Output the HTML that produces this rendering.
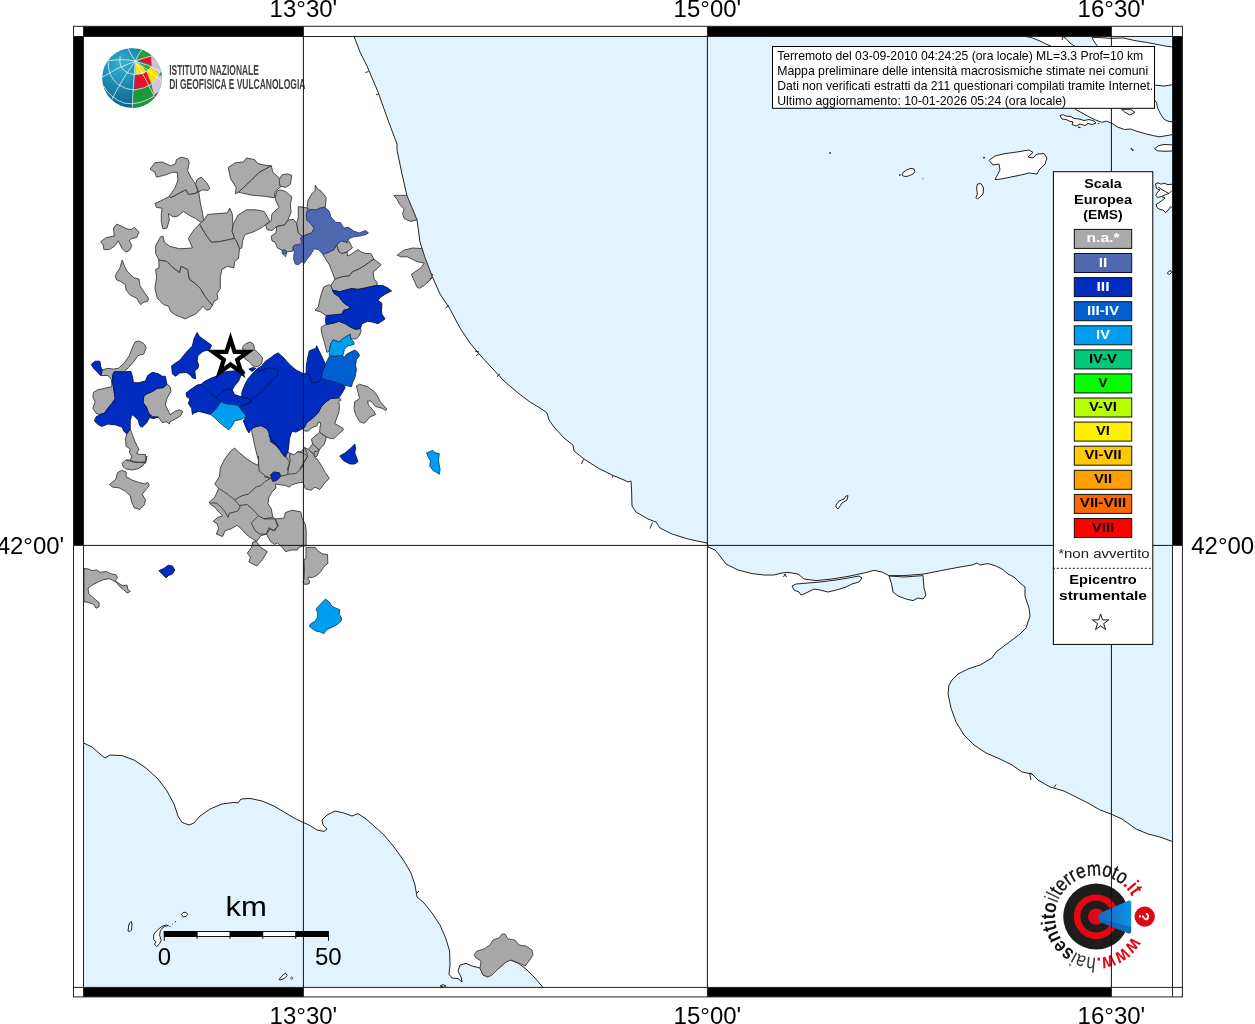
<!DOCTYPE html>
<html><head><meta charset="utf-8"><title>Mappa intensit&agrave; macrosismiche</title>
<style>
html,body{margin:0;padding:0;background:#fff;}
body{width:1255px;height:1024px;position:relative;overflow:hidden;font-family:"Liberation Sans",sans-serif;}
</style></head><body>
<svg width="1255" height="1024" viewBox="0 0 1255 1024" style="position:absolute;left:0;top:0;will-change:transform;font-family:'Liberation Sans',sans-serif">
<defs><clipPath id="mapclip"><rect x="83.5" y="36.5" width="1089" height="950.9"/></clipPath>

<radialGradient id="gl" cx="0.32" cy="0.28" r="0.85"><stop offset="0" stop-color="#34b2d2"/><stop offset="0.45" stop-color="#1a86ae"/><stop offset="1" stop-color="#0a5482"/></radialGradient>
<clipPath id="globeclip"><circle cx="0" cy="0" r="30"/></clipPath>
<linearGradient id="cone" x1="0" y1="0" x2="1" y2="0"><stop offset="0" stop-color="#1c66bf"/><stop offset="1" stop-color="#0a93e4"/></linearGradient>
<path id="ring" d="M 35.94,19.92 A 41.1,41.1 0 1 1 36.6,-18.7"/>

</defs>
<rect x="0" y="0" width="1255" height="1024" fill="#fff"/>
<g clip-path="url(#mapclip)">
<polygon points="354,36.4 360,52 367,66 378,92 388,120 397,144 397,150 402,174 407,196 417,220 418.4,230 420,242 425,258 432,276 440,294 450,309 460,328 470,343 480,355 492,368 504,381 518,393 530,402 540,408 547,413 549,420 554,427 564,438 573,445 574,451 584,459 598,468 612,475 624,480 628,482 631,481 631.6,490 632,506 636,512 648,519 656,522 660,528 672,534 688,539 700,541.6 707,543 708,547 715,550 720,556 726,564 738,570 752,573.6 764,575 774,575 782,573 788,572.4 798,574 804,579 816,580.6 832,579 848,576.4 864,573 874,570.4 882,572 889,575.6 904,575.6 924,574 944,570 960,567 972,565 977,563 980,565 988,563.6 996,566 1002,569 1008,574 1014,577 1020,583 1025,587 1025,596 1029,608 1030,616 1026,628 1020,634 1012,640 1004,646 996,652 992,658 980,665 968,669 958,674 952,680 949,685 948,694 951,708 956,722 964,735 974,745 986,753 1000,759 1012,765 1022,772 1032,774 1038,780 1050,787 1064,791 1074,796 1088,803 1100,810 1111,814 1122,819 1136,829 1148,834 1160,837 1172.5,841.6 1177.5,841.6 1177.5,31.5 354,31.5" fill="#e0f3ff" stroke="none"/>
<polyline points="354,36.4 360,52 367,66 378,92 388,120 397,144 397,150 402,174 407,196 417,220 418.4,230 420,242 425,258 432,276 440,294 450,309 460,328 470,343 480,355 492,368 504,381 518,393 530,402 540,408 547,413 549,420 554,427 564,438 573,445 574,451 584,459 598,468 612,475 624,480 628,482 631,481 631.6,490 632,506 636,512 648,519 656,522 660,528 672,534 688,539 700,541.6 707,543 708,547 715,550 720,556 726,564 738,570 752,573.6 764,575 774,575 782,573 788,572.4 798,574 804,579 816,580.6 832,579 848,576.4 864,573 874,570.4 882,572 889,575.6 904,575.6 924,574 944,570 960,567 972,565 977,563 980,565 988,563.6 996,566 1002,569 1008,574 1014,577 1020,583 1025,587 1025,596 1029,608 1030,616 1026,628 1020,634 1012,640 1004,646 996,652 992,658 980,665 968,669 958,674 952,680 949,685 948,694 951,708 956,722 964,735 974,745 986,753 1000,759 1012,765 1022,772 1032,774 1038,780 1050,787 1064,791 1074,796 1088,803 1100,810 1111,814 1122,819 1136,829 1148,834 1160,837 1172.5,841.6" fill="none" stroke="#222" stroke-width="1.0" stroke-linejoin="round"/>
<polygon points="83.5,743 92,747 100,754 105,758 110,755 122,755.6 134,760 146,768 158,779 167,791 174,804 178,816 182,822.4 189,825 194,823 200,816 210,809 222,804 234,802.4 238,803 241,799 250,798.4 262,801 274,806 284,812 294,818 303,822.4 309,825 317,830 324,831.4 327,829 323,825 322,820 327,815 335,811 344,813 352,816 358,813.6 366,819 374,826 384,835 394,847 404,861 411,873 415,885 417,897 424,903 432,913 440,925 446,939 449.6,951 450,965 449,974 452,978 458,978.6 462,982 461,977 458,971 460,965 466,963.4 472,966 480,968 483,975 488,977 498,969 506,962 510,960 518,963 526,969 534,977 543,987.4 543,992.4 78.5,992.4 78.5,743" fill="#e0f3ff" stroke="none"/>
<polyline points="83.5,743 92,747 100,754 105,758 110,755 122,755.6 134,760 146,768 158,779 167,791 174,804 178,816 182,822.4 189,825 194,823 200,816 210,809 222,804 234,802.4 238,803 241,799 250,798.4 262,801 274,806 284,812 294,818 303,822.4 309,825 317,830 324,831.4 327,829 323,825 322,820 327,815 335,811 344,813 352,816 358,813.6 366,819 374,826 384,835 394,847 404,861 411,873 415,885 417,897 424,903 432,913 440,925 446,939 449.6,951 450,965 449,974 452,978 458,978.6 462,982 461,977 458,971 460,965 466,963.4 472,966 480,968 483,975 488,977 498,969 506,962 510,960 518,963 526,969 534,977 543,987.4" fill="none" stroke="#222" stroke-width="1.0" stroke-linejoin="round"/>
<polygon points="792,586 796,584 808,583 820,582 836,580 848,578 859,576 862,578 859,582 852,584 846,587 838,589.6 828,592 820,590 814,589 806,593 801,595 799,592 794,590" fill="#e0f3ff" stroke="#222" stroke-width="1.0" stroke-linejoin="round"/>
<polygon points="889,576 904,577 923,575.6 924,588 926,595 923,599 918,598 913,600.6 906,599 898,596 893,592 891.6,584" fill="#e0f3ff" stroke="#222" stroke-width="1.0" stroke-linejoin="round"/>
<polygon points="836,505 839,501 844,499 846,496 848,495.6 847,500 842,503 838,509 836,507" fill="#fff" stroke="#222" stroke-width="1.0" stroke-linejoin="round"/>
<polygon points="128,931 129,924 131,921.5 132,924 131.5,930 130,931.5" fill="#fff" stroke="#222" stroke-width="1.0" stroke-linejoin="round"/>
<polygon points="168.5,925.6 164.7,926.3 162.1,928.2 160.2,931.4 159.6,935.2 161.2,940.3 159.6,943.5 156.7,946.7 154.5,944.1 156.1,941.6 153.5,939.7 153.8,934.6 156.1,931.4 158.9,928.8 162.1,926.3 165.9,925" fill="#fff" stroke="#222" stroke-width="1.0" stroke-linejoin="round"/>
<polygon points="181.5,914.5 183,912.5 186,912.3 187.6,914.3 186,916.5 183,916.8" fill="#fff" stroke="#222" stroke-width="1.0" stroke-linejoin="round"/>
<polygon points="279,979.5 283,975 285.5,973 287.2,975.5 284,978.5 280,980" fill="#fff" stroke="#222" stroke-width="1.0" stroke-linejoin="round"/>
<polygon points="440,986 443,984.6 446,986 444,987.2" fill="#fff" stroke="#222" stroke-width="1.0" stroke-linejoin="round"/>
<polygon points="989,160.4 995,156 1005,153.6 1017,152 1029,150 1033,152.4 1028,157 1033,158 1037,154 1044,153.6 1047,158 1045,164 1039,170 1037,174 1029,173 1021,175 1011,177 1001,179 995,179.6 1000,170 999,164 993,165" fill="#fff" stroke="#222" stroke-width="1.0" stroke-linejoin="round"/>
<polygon points="977.4,184 981,183.6 983.6,188 983,194 980,197 977.4,199 976,197.6 977.4,194 976.6,188" fill="#fff" stroke="#222" stroke-width="1.0" stroke-linejoin="round"/>
<polygon points="902,175 903,172.5 906.5,170 911,168.3 914,169 914.8,171.5 913,174 909,175.8 906,176.5 903.5,176" fill="#fff" stroke="#222" stroke-width="1.0" stroke-linejoin="round"/>
<polygon points="1022.8,36 1031,37.5 1040,41 1046,44 1051.8,46.5 1075,46.5 1070,43 1066,38.5 1062,36" fill="#fff" stroke="#222" stroke-width="1.0" stroke-linejoin="round"/>
<polyline points="1062,40 1063,36.5" fill="none" stroke="#222" stroke-width="1.0" stroke-linejoin="round"/>
<polygon points="1092,37.6 1100,37.6 1111.2,38.4 1123.2,38 1136,40.8 1146.5,42.4 1156.9,44.4 1164.9,46 1175,47.2 1175,84.4 1164,86 1155.3,85.2 1150,84 1098,46.5 1097.2,45.6 1094.4,42" fill="#fff" stroke="#222" stroke-width="1.0" stroke-linejoin="round"/>
<polygon points="1075.4,109.3 1081,112.4 1089.4,117 1095.6,120 1101.8,122.3 1106.5,121.2 1112,123.3 1117.3,127 1124.6,129.5 1130.8,129 1136,131 1145.3,133.7 1153.6,135.7 1159.8,136.8 1166,135.7 1175,134.2 1175,122.3 1168,121.2 1164,119.2 1160.8,114.5 1157.7,108.3 1156.7,103 1154.6,100 1080,100" fill="#fff" stroke="#222" stroke-width="1.0" stroke-linejoin="round"/>
<polygon points="1121.5,109.3 1130.8,109.3 1135,112.4 1129.8,115 1124.6,112" fill="#e0f3ff" stroke="#222" stroke-width="1.0" stroke-linejoin="round"/>
<polygon points="1060,115.5 1063,114.6 1066,116 1071,116.5 1074,118.5 1079,119 1084,120.5 1089,119.5 1094,121 1096,123 1092,124.5 1088,123.5 1085,125.5 1080,124 1076,126 1072,124.5 1073,122 1069,121 1066,119.5 1062,119" fill="#fff" stroke="#222" stroke-width="1.0" stroke-linejoin="round"/>
<polyline points="1078,127.2 1080.5,127.6" fill="none" stroke="#222" stroke-width="1.2" stroke-linejoin="round"/>
<polyline points="1098.5,123 1099,124" fill="none" stroke="#222" stroke-width="1.2" stroke-linejoin="round"/>
<polygon points="1154.6,148.7 1158.8,145.6 1164,144.5 1175,145 1175,150.8 1164,151.3 1157.7,150.8" fill="#fff" stroke="#222" stroke-width="1.0" stroke-linejoin="round"/>
<polyline points="1130.8,148.2 1132.2,149.4 1133.4,150.8" fill="none" stroke="#222" stroke-width="1.3" stroke-linejoin="round"/>
<polygon points="1155.6,183.8 1158,182.8 1161,184.2 1164,183.2 1168,184.6 1175,184 1175,209 1170.5,206.5 1168,210.5 1165.5,212.5 1163,210 1160,209.5 1157,207.5 1156.2,204.5 1158.5,203 1162,200.5 1165,198 1161.5,196.5 1158,197.5 1155.8,195.5 1157.5,192 1160,190 1156.5,188.5" fill="#fff" stroke="#222" stroke-width="1.0" stroke-linejoin="round"/>
<polyline points="1158,187 1162,189.5 1166,192 1169,193.5" fill="none" stroke="#222" stroke-width="1.0" stroke-linejoin="round"/>
<polyline points="1161.5,196.5 1166,194.5 1169,193.5 1172,190.5" fill="none" stroke="#222" stroke-width="1.0" stroke-linejoin="round"/>
<polygon points="1167.3,273.5 1168.5,271.5 1171,270.6 1171.5,272.5 1169.5,274.5" fill="#fff" stroke="#222" stroke-width="1.0" stroke-linejoin="round"/>
<circle cx="830" cy="153" r="0.9" fill="#333"/><circle cx="899.8" cy="175" r="0.9" fill="#333"/><circle cx="922.8" cy="178.7" r="0.6" fill="#555"/><circle cx="984" cy="157.7" r="1" fill="#333"/>
<circle cx="291.7" cy="978.2" r="1.1" fill="#fff" stroke="#222" stroke-width="0.7"/>
<circle cx="175.5" cy="921.7" r="0.7" fill="#333"/><circle cx="172.5" cy="924" r="0.6" fill="#333"/><circle cx="170" cy="926.6" r="0.7" fill="#333"/>
<line x1="365.5" y1="72.5" x2="368.5" y2="71.5" stroke="#222" stroke-width="1"/>
<line x1="376" y1="95" x2="379" y2="93.5" stroke="#222" stroke-width="1"/>
<line x1="429" y1="281" x2="432" y2="278" stroke="#222" stroke-width="1"/>
<line x1="445.5" y1="308" x2="448.5" y2="305.5" stroke="#222" stroke-width="1"/>
<line x1="475" y1="351" x2="479" y2="352" stroke="#222" stroke-width="1"/>
<line x1="476" y1="356" x2="479" y2="353.5" stroke="#222" stroke-width="1"/>
<line x1="497" y1="376.5" x2="500" y2="374" stroke="#222" stroke-width="1"/>
<line x1="581.5" y1="464" x2="583.5" y2="459.5" stroke="#222" stroke-width="1"/>
<line x1="612" y1="478" x2="613" y2="476" stroke="#222" stroke-width="1"/>
<line x1="650" y1="528.5" x2="652.5" y2="522.5" stroke="#222" stroke-width="1"/>
<line x1="783.5" y1="577" x2="785" y2="574" stroke="#222" stroke-width="1"/>
<line x1="786.5" y1="577" x2="785" y2="574" stroke="#222" stroke-width="1"/>
<line x1="1029.5" y1="773" x2="1031" y2="780" stroke="#222" stroke-width="1"/>
<line x1="1029.5" y1="773" x2="1032" y2="774" stroke="#222" stroke-width="1"/>
<line x1="1054" y1="787.5" x2="1056" y2="784.5" stroke="#222" stroke-width="1"/>
<line x1="416" y1="894" x2="419" y2="891" stroke="#222" stroke-width="1"/>
<line x1="431" y1="276.5" x2="433" y2="274" stroke="#222" stroke-width="1"/>
<polygon points="150.1,169.1 154.9,162.7 162.1,162 170.9,165.9 175.6,163.5 176.4,159.6 181.2,157.2 187.6,158.8 189.2,162.7 187.6,170.7 190.8,177.1 195.6,184.3 197.9,191.4 194,193.8 188.4,194.6 186,189.8 179.6,193 174,196.2 170.9,197.8 169.3,196.5 174.8,188.2 178,180.3 177.2,172.3 172.4,172.3 163.7,175.5 156.5,177.1 154.9,172.3" fill="#aaaaaa" stroke="#3a3a3a" stroke-width="0.9" stroke-linejoin="round"/>
<polygon points="195.6,184.3 197.1,179.5 201.1,177.1 206.7,182.7 209.9,188.2 207.5,190.6 202.7,189.8 198.7,191.8" fill="#aaaaaa" stroke="#3a3a3a" stroke-width="0.9" stroke-linejoin="round"/>
<polygon points="154.9,203.4 160.5,201 169.3,196.5 170.9,197.8 174,196.2 179.6,193 186,189.8 188.4,194.6 194,193.8 198.7,191.8 200.3,202.6 202.7,213.7 203.5,220.9 201.1,222.5 195.6,218.5 189.2,215.3 183.6,211.4 178,216.1 173.2,216.9 168.5,213.7 169.3,220.1 166.9,228.1 162.9,228.9 161.3,221.7 161.3,213.7 162.1,208.2 156.5,207.4" fill="#aaaaaa" stroke="#3a3a3a" stroke-width="0.9" stroke-linejoin="round"/>
<polygon points="228.2,167.5 235.4,162.7 243.4,162 246.5,158 254.5,159.6 257.7,163.5 264.1,165.1 271.3,165.9 259.3,172.3 251.3,180.3 238.6,192.2 235.4,193.8 236.2,187.5 230.6,178.7" fill="#aaaaaa" stroke="#3a3a3a" stroke-width="0.9" stroke-linejoin="round"/>
<polygon points="271.3,165.9 272.8,172.3 279.2,177.9 280.8,186.7 275.2,191.4 274.4,197.8 264.1,196.2 252.9,195.4 241.8,193 238.6,192.2 251.3,180.3 259.3,172.3" fill="#aaaaaa" stroke="#3a3a3a" stroke-width="0.9" stroke-linejoin="round"/>
<polygon points="201.1,222.5 203.5,220.9 207.5,214.5 216.3,213.7 227.4,212.9 229.8,208.2 232.2,213.7 233,224.9 232.2,231.3 234.6,238.4 227.4,240 219.5,241.6 211.5,242.4 206.7,236.1 202.7,229.7 199.5,224.1" fill="#aaaaaa" stroke="#3a3a3a" stroke-width="0.9" stroke-linejoin="round"/>
<polygon points="233,224.9 237.8,215.3 246.5,209.8 256.1,209.8 264.1,211.4 269.7,220.9 266.5,224.1 260.9,228.1 252.9,232.1 245,234.5 242.6,240.8 241.8,248 239.4,248.8 237,242.4 234.6,238.4 232.2,231.3" fill="#aaaaaa" stroke="#3a3a3a" stroke-width="0.9" stroke-linejoin="round"/>
<polygon points="155.7,245.6 160.5,236.9 162.9,236.1 164.5,242.4 170.1,246.4 179.6,248.8 192.4,248 188.4,238.4 194,229.7 199.5,224.1 202.7,229.7 206.7,236.1 211.5,242.4 219.5,241.6 227.4,240 234.6,238.4 237,242.4 239.4,248.8 238.6,258.4 234.6,261.6 233.8,267.9 227.4,266.3 221.8,269.5 220.3,277.5 220.3,288.6 217.1,293.4 217.9,299 213.9,301.4 212.3,305.4 205.1,296.6 200.3,288.6 195.6,283.9 189.2,279.1 187.6,269.5 181.2,266.3 179.6,272.7 173.2,267.9 166.9,261.6 158.9,260 155.7,253.6" fill="#aaaaaa" stroke="#3a3a3a" stroke-width="0.9" stroke-linejoin="round"/>
<polygon points="158.9,260 166.9,261.6 173.2,267.9 179.6,272.7 181.2,266.3 187.6,269.5 189.2,279.1 195.6,283.9 200.3,288.6 205.1,296.6 212.3,305.4 209.9,309.4 206.7,310.2 202.7,306.2 200.3,309.4 195.6,314.2 190,316.5 185.2,318.9 179.6,316.5 175.6,315 170.9,311.8 168.5,306.2 163.7,304.6 157.3,298.2 154.9,288.6 156.5,277.5 155.7,269.5 158.9,267.9" fill="#aaaaaa" stroke="#3a3a3a" stroke-width="0.9" stroke-linejoin="round"/>
<polygon points="100.7,241.6 106.3,237.6 114.3,236.1 113.5,228.1 116.7,224.1 123.8,227.3 127,228.9 131.8,229.7 134.2,227.3 139,232.1 136.6,237.6 131.8,238.4 129.4,240.8 131.8,245.6 129.4,250.4 126.2,252 122.2,248.8 119.9,244 118.3,240.8 115.1,245.6 109.5,249.6 103.9,249.6 103.1,244.8" fill="#aaaaaa" stroke="#3a3a3a" stroke-width="0.9" stroke-linejoin="round"/>
<polygon points="115.1,275.9 119.9,267.9 122.2,260 124.6,266.3 127,271.1 133.4,277.5 139,279.1 139.8,285.5 143.8,291.8 148.5,298.2 147.7,301.4 143.8,302.2 140.6,304.6 136.6,298.2 130.2,295 126.2,290.2 125.4,284.7 120.7,281.5 116.7,279.9" fill="#aaaaaa" stroke="#3a3a3a" stroke-width="0.9" stroke-linejoin="round"/>
<polygon points="279.1,179.5 282.3,174.7 287.9,173.9 291.9,175.5 290.3,184.3 285.5,187.5 279.9,185.9" fill="#aaaaaa" stroke="#3a3a3a" stroke-width="0.9" stroke-linejoin="round"/>
<polygon points="275.2,197.8 276.7,191.4 279.9,189.8 285.5,191.4 291.9,197 290.3,204.2 291.1,212.2 287.9,220.1 284.7,224.9 276.7,226.5 272,230.5 267.2,229.7 265.6,224.9 271.2,220.9 272,213.7 279.1,207.4 276,201" fill="#aaaaaa" stroke="#3a3a3a" stroke-width="0.9" stroke-linejoin="round"/>
<polygon points="271.2,236.1 276,232.9 276.7,226.5 284.7,224.9 287.9,220.1 293.5,219.3 296.7,223.3 298.3,232.9 302.2,236.1 300.7,238.4 302.2,242.4 298.3,244.8 293.5,245.6 292.7,251.2 286.3,252 286.3,254.4 285.5,256.8 282.3,253.6 282.3,250.4 277.5,248 275.2,242.4 272,240.8" fill="#aaaaaa" stroke="#3a3a3a" stroke-width="0.9" stroke-linejoin="round"/>
<polygon points="298.3,206.6 303.8,207.4 307.8,208.2 306.2,215.3 307,220.1 311.8,224.9 314.2,228.1 311.8,232.9 307,234.5 302.2,236.1 298.3,232.9 296.7,223.3 298.3,216.9" fill="#aaaaaa" stroke="#3a3a3a" stroke-width="0.9" stroke-linejoin="round"/>
<polygon points="307,208.2 307.8,201 311.8,193.8 315,190.6 315.3,185.1 318.2,189.8 320.6,190.6 323.8,194.6 326.2,197.8 325.4,206.6 319.8,208.2 316.6,209.8 310.2,209.8" fill="#aaaaaa" stroke="#3a3a3a" stroke-width="0.9" stroke-linejoin="round"/>
<polygon points="336.5,244.8 341.3,240.8 346.9,242.4 349.3,241.6 352.4,248 346.9,252 342.1,253.6 338.9,252" fill="#aaaaaa" stroke="#3a3a3a" stroke-width="0.9" stroke-linejoin="round"/>
<polygon points="323,254.4 329.3,252 334.1,249.6 336.5,244.8 338.9,252 342.1,253.6 346.9,252 347.7,256 350.9,254.4 358,249.6 361.2,252 366,253.6 370.8,253.6 374,259.2 370,261.6 366,264.7 359.6,268.7 352.4,271.9 349.3,275.9 342.1,276.7 334.9,279.1 332.5,272.7 329.3,264.7 326.2,260" fill="#aaaaaa" stroke="#3a3a3a" stroke-width="0.9" stroke-linejoin="round"/>
<polygon points="334.9,279.1 342.1,276.7 349.3,275.9 352.4,271.9 359.6,268.7 366,264.7 370,261.6 374,259.2 377.1,261.6 381.1,264.7 377.1,268.7 373.2,271.9 374,279.1 377.1,282.3 377.1,285.5 372.4,286.3 366,287.8 358,289.4 351.6,288.6 345.3,290.2 339.7,291.8 332.5,290.2 330.9,285.5" fill="#aaaaaa" stroke="#3a3a3a" stroke-width="0.9" stroke-linejoin="round"/>
<polygon points="330.9,285.5 332.5,290.2 334.1,293.4 338.9,296.6 343.7,303 350.1,307 350.1,308.6 343.7,310.2 342.1,314.1 334.1,314.9 326.2,315.7 320.6,311.8 315,310.2 318.2,307 319.8,299.8 321.4,293.4 323.8,287.1 328.5,284.7" fill="#aaaaaa" stroke="#3a3a3a" stroke-width="0.9" stroke-linejoin="round"/>
<polygon points="393.9,195.4 406.8,195.3 411.9,207.7 417,220 410.6,221.4 404.2,218.5 402.6,213.7 404.2,209 399.5,204.2 397.1,199.4" fill="#aaaaaa" stroke="#3a3a3a" stroke-width="0.9" stroke-linejoin="round"/>
<polygon points="397.1,255.2 403.4,250.4 412.2,248 421.8,248.5 425.8,260 432,275.9 430.1,279.9 424.2,285.5 419.4,288.3 417,287.1 411.4,274.3 421,267.9 424.2,263.1 417,261.6 407.4,256.8 401.1,256.8" fill="#aaaaaa" stroke="#3a3a3a" stroke-width="0.9" stroke-linejoin="round"/>
<polygon points="100.7,375.5 102.3,369.9 107.9,368.3 113.5,369.1 118.3,368.3 123.8,363.6 129.4,355.6 131.8,349.2 135,342 139,340.9 143.8,343.6 146.2,347.6 143.8,354 138.2,355.6 133.4,362 128.6,367.5 123.8,371.8 114.3,371.8 112.4,375.5 112.7,382.7 114.3,392.2 115.1,398.6 111.9,403.4 107.9,408.2 104.7,413 99.9,414.6 96,413 92.8,408.2 95.2,401.8 92.8,397 93.6,392.2 97.5,389.9 104.7,388.3 111.9,386.7 111.4,379.5 107.9,375.5 103.1,375.5" fill="#aaaaaa" stroke="#3a3a3a" stroke-width="0.9" stroke-linejoin="round"/>
<polygon points="143.8,396.2 146.9,393.8 152.5,391.4 157.3,388.3 163.7,387.5 166.9,384.3 170.1,386.7 170.9,391.4 166.9,398.6 165.3,405 168.5,411.4 170.1,414.6 174.8,411.4 179.6,409.8 182.8,411.4 180.4,416.1 174.8,419.3 170.1,421.7 169.3,424.1 166.9,421.7 162.1,422.5 158.9,417.7 152.5,416.9 148.5,413 146.2,406.6 143,402.6" fill="#aaaaaa" stroke="#3a3a3a" stroke-width="0.9" stroke-linejoin="round"/>
<polygon points="127,433.7 130.2,428.9 132.6,435.3 135,441.6 137.4,446.4 139,449.6 136.6,453.6 139.8,454.4 145.4,454.4 146.2,460 145.4,463.2 146.9,456 145.4,461.6 143,465.6 138.2,468.7 131.8,470 125.4,468.7 123,466.4 122.2,463.2 126.2,460 130.2,460 131.8,456.8 129.4,452 130.2,448.8 126.2,446.4 125.4,438.5" fill="#aaaaaa" stroke="#3a3a3a" stroke-width="0.9" stroke-linejoin="round"/>
<polygon points="242.6,346.8 245.8,343.6 250.5,342 253.7,344.4 254.5,349.2 259.3,354 262.5,358 261.7,363.6 257.7,366.7 252.9,365.9 249.7,362 245,358.8 243.4,354" fill="#aaaaaa" stroke="#3a3a3a" stroke-width="0.9" stroke-linejoin="round"/>
<polygon points="321.4,326.9 326.2,324.5 334.1,322.9 338.9,321.3 345.3,323.7 350.1,326.9 355.6,329.3 360.4,328.5 361.2,330.9 358.8,336.5 356.4,338.9 350.9,338.9 350.1,334.1 343.7,338.1 338.9,342 333.3,339.7 330.9,343.6 329.3,350.8 326.9,352.4 324.6,342.8 322.2,334.9 321.1,329.3" fill="#aaaaaa" stroke="#3a3a3a" stroke-width="0.9" stroke-linejoin="round"/>
<polygon points="356.4,385.9 359.6,384.3 367.6,386.7 374,391.4 377.1,395.4 380.3,401.8 386.7,409 385.9,410.6 381.9,408.2 375.6,406.6 370.8,401 367.6,401 368.4,405 374,411.4 375.6,414.6 370,416.9 364.4,423.3 359.6,421.7 355.6,414.6 354,408.2 354.8,401.8 359.6,398.6 358,392.2" fill="#aaaaaa" stroke="#3a3a3a" stroke-width="0.9" stroke-linejoin="round"/>
<polygon points="304.4,422.8 309.1,418.9 313.8,416.6 317.7,411.9 320.8,406.4 326.2,400.9 330.9,398.2 337.2,397.8 338.8,398.2 340.3,398.6 341.1,400.2 339.1,400.5 338.8,402.5 339.5,406.4 338.8,412.7 336.4,418.9 334.8,423.6 340.3,426.7 343.4,428.7 342.7,430.6 338.8,433.8 334.1,438.4 330.2,438.4 326.2,436.9 321.6,433.8 319.6,432.2 320,427.5 320.8,424.4 320,422 318,422.4 316.9,425.9 312.2,427.5 308.3,431 304.4,431 301.2,426.7 299.7,422.8 302.8,419.7" fill="#aaaaaa" stroke="#3a3a3a" stroke-width="0.9" stroke-linejoin="round"/>
<polygon points="311.4,439.2 316.1,435.3 319.6,432.2 321.6,433.8 326.2,436.9 325.5,440.8 323.9,444.7 320.8,447.8 319.2,450.2 316.9,447.8 313.8,445.1 312.6,443.9" fill="#aaaaaa" stroke="#3a3a3a" stroke-width="0.9" stroke-linejoin="round"/>
<polygon points="308.3,449.4 312.6,443.9 313.8,445.1 316.9,447.8 319.2,450.2 318.4,452.5 316.9,456.4 314.5,457.2 313.8,454.1 310.6,451.7" fill="#aaaaaa" stroke="#3a3a3a" stroke-width="0.9" stroke-linejoin="round"/>
<polygon points="109.5,484.7 115.9,479.1 117.5,472.7 121.5,470.3 126.2,471.9 126.2,476.7 131.8,479.9 138.2,482.3 144.6,483.9 147.7,482.3 149.3,485.5 145.4,490.3 142.2,494.2 145.4,499.8 144.6,504.6 139.8,509.4 134.2,507.8 131.8,502.2 130.2,495.8 125.4,491.1 119.1,487.9 112.7,487.1" fill="#aaaaaa" stroke="#3a3a3a" stroke-width="0.9" stroke-linejoin="round"/>
<polygon points="84,568.4 88.8,569.1 92,570.7 96.7,569.9 99.9,572.3 106.3,571.5 111.1,573.9 115.9,574.7 117.5,577.9 115.1,580.3 119.1,583.5 123,585.9 127,585.1 127.8,589.1 130.2,591.5 127,593.1 123.8,589.9 119.9,586.7 115.9,581.9 109.5,578.7 103.9,579.5 98.3,581.9 92,585.1 88,588.3 88.8,593.8 95.2,599.4 99.1,602.6 99.1,606.6 96,608.2 93.6,604.2 88.8,602.6 84,601.8" fill="#aaaaaa" stroke="#3a3a3a" stroke-width="0.9" stroke-linejoin="round"/>
<polygon points="247.3,553.2 251.3,547.6 252.9,542.1 256.1,541.3 260.9,547.6 267.3,551.6 262.5,559.6 256.9,566 248.9,562 250.5,557.2" fill="#aaaaaa" stroke="#3a3a3a" stroke-width="0.9" stroke-linejoin="round"/>
<polygon points="306,547.3 315.2,547.3 317.7,550.7 322.1,553.7 327.5,554.6 327.9,563.4 324,566.4 321.1,571.2 317.2,575.2 312.3,577.6 308.4,577.1 307.9,579.6 309.9,581 308.9,583.9 304.5,584.4 303,582 304,579.1 304.5,570.3 304,559.5 306,558.6" fill="#aaaaaa" stroke="#3a3a3a" stroke-width="0.9" stroke-linejoin="round"/>
<polygon points="209.1,502.2 214.7,497.4 218.7,488.7 214.7,483.9 219.5,476.7 220.3,468 223.4,461.6 225.8,457.6 230.6,451.2 234.6,448 239.4,452.8 242.2,455 247,459 251.6,462 258,465.5 258.6,461.3 256.5,453 254.7,445.6 252.9,436.9 251.3,428.9 256.1,426.5 262,425 270,432 278,440 283,448 285.6,457.2 286.8,451.7 290.3,453.3 294.2,454.8 297.3,451.7 301.3,451.7 304.4,447.4 308.3,449.4 310.6,451.7 313.8,454.1 314.5,457.2 316.9,458.8 320,463.4 321.4,465.6 325.4,472.7 329.3,478.3 324.6,483.1 319.8,489.5 315,487.1 311,490.3 305.4,488.7 303,482.3 297.5,483.1 291.9,484.7 289.5,487.1 285.5,485.5 279.9,484.7 275.2,483.9 276,487.9 272,491.9 268.8,497.4 268,503.8 271.2,508.6 272.8,517.4 275.2,518.9 283.9,518.2 285.5,512.6 291.9,510.2 300.7,511.8 302.2,518.9 305.4,524.5 306.2,530.9 306.2,546 303,546 298.3,547.6 297.5,550 291.1,550 285.5,551.6 283.1,548.4 279.1,544.4 277.5,542.9 274.4,544.4 270.4,541.3 266.5,534.1 260.9,535.7 256.9,541.3 251.3,538.1 245.8,534.1 241,528.5 237,525.3 231.4,528.5 225,530.9 222.6,536.5 216.3,534.1 218.7,528.5 217.1,523.7 213.1,521.3 217.9,517.4 222.6,515.8 217.9,511 214.7,507 210.7,504.6" fill="#aaaaaa" stroke="#3a3a3a" stroke-width="0.9" stroke-linejoin="round"/>
<polygon points="282.3,250.4 283.9,249.6 286.3,250.7 286.3,253.6 283.9,253.9 282.3,252.8" fill="#5068b0" stroke="#2a3c78" stroke-width="0.9" stroke-linejoin="round"/>
<polygon points="310.2,209.8 316.6,209.8 319.8,208.2 325.4,207.4 329.3,211.4 330.9,216.9 335.7,222.5 340.5,222.5 343.7,228.1 348.5,227.3 354,231.3 359.6,232.9 365.2,230.5 368.4,232.9 366,234.5 359.6,236.1 353.2,236.9 349.3,238.4 346.9,242.4 341.3,240.8 336.5,244.8 334.1,249.6 329.3,252 323,254.4 318.2,249.6 314.2,248.8 310.2,255.2 306.2,260 304.6,263.1 302.2,261.6 298.3,264.7 295.1,263.9 293.5,258.4 294.3,252 292.7,247.2 295.1,244.8 302.2,244.8 300.7,238.4 303,236.1 307,234.5 311.8,232.9 314.2,228.1 311.8,224.9 307,220.1 306.2,215.3 307.8,210.6" fill="#5068b0" stroke="#2a3c78" stroke-width="0.9" stroke-linejoin="round"/>
<polygon points="332.5,290.2 339.7,291.8 345.3,290.2 351.6,288.6 358,289.4 366,287.8 372.4,286.3 377.1,285.5 382.7,285.5 387.5,287.8 391.5,291 385.1,294.2 380.3,297.4 377.9,300.6 381.9,303 381.6,309.4 381.1,307.8 381.9,314.2 385.1,318.9 377.9,323.7 372.4,322.1 367.6,321.3 362,323.7 360.4,328.5 355.6,329.3 350.1,326.9 345.3,323.7 338.9,321.3 334.1,322.9 326.2,324.5 325.4,320.5 326.2,315.7 334.1,314.9 342.1,314.1 343.7,310.2 350.1,308.6 350.1,307 343.7,303 338.9,296.6 334.1,293.4" fill="#002cc0" stroke="#00145c" stroke-width="0.9" stroke-linejoin="round"/>
<polygon points="91.2,364.4 95.2,361.2 99.9,361.2 100.7,366.7 102.3,369.9 100.7,375.5 97.5,372.3 93.6,368.3" fill="#002cc0" stroke="#00145c" stroke-width="0.9" stroke-linejoin="round"/>
<polygon points="112.7,374.7 114.3,371.8 123.8,371.8 131,371.5 132.6,377.1 133.4,382.7 138.2,382.7 145.4,381.1 147.7,375.5 152.5,372.3 158.9,373.9 162.1,376.3 165.3,376.3 166.9,384.3 163.7,387.5 157.3,388.3 152.5,391.4 146.9,393.8 143.8,396.2 143,402.6 146.2,406.6 148.5,413 152.5,416.9 158.1,416.9 154.1,418.5 149.3,417.7 146.9,422.5 142.2,427.3 139.8,425.7 138.2,420.1 134.2,416.1 131.8,414.6 130.2,420.9 130.2,428.9 127,433.7 123.8,431.3 122.2,427.3 115.9,424.9 107.9,424.1 101.5,426.5 97.5,424.1 94.4,420.9 96,416.9 99.9,414.6 104.7,413 107.9,408.2 111.9,403.4 115.1,398.6 114.3,392.2 112.7,382.7" fill="#002cc0" stroke="#00145c" stroke-width="0.9" stroke-linejoin="round"/>
<polygon points="171.6,365.9 174.8,363.6 179.6,360.4 183.6,355.6 187.6,350.8 192.4,346 194,338.9 197.1,332.5 199.5,336.5 205.1,340.5 211.5,345.2 209.9,349.2 202.7,351.6 197.9,355.6 197.1,360.4 198.7,365.2 197.9,368.3 194.8,370.7 195.6,378.7 192.4,377.9 190,374.7 186,372.3 179.6,373.1 175.6,376.3 172.4,373.9" fill="#002cc0" stroke="#00145c" stroke-width="0.9" stroke-linejoin="round"/>
<polygon points="248.9,369.1 252.9,367.5 256.1,368.3 252.1,371.5" fill="#002cc0" stroke="#00145c" stroke-width="0.9" stroke-linejoin="round"/>
<polygon points="186,393 190,389.9 197.1,385.1 201.1,384.3 205.1,388.3 211.5,393.8 216.3,397.8 221.1,401.8 217.9,406.6 213.9,411.4 210.7,414.6 205.1,413 198.7,411.4 194,413 192.4,414.6 191.6,408.2 188.4,403.4 190,398.6 186.8,397" fill="#002cc0" stroke="#00145c" stroke-width="0.9" stroke-linejoin="round"/>
<polygon points="201.1,384.3 205.1,381.1 211.5,377.9 216.3,376.3 219.5,373.1 227.4,371.5 237,370.7 243.4,369.9 245,373.1 241,375.5 238.6,381.1 234.6,385.9 232.2,389.9 228.2,389.1 222.6,391.4 218.7,395.4 216.3,397.8 211.5,393.8 205.1,388.3" fill="#002cc0" stroke="#00145c" stroke-width="0.9" stroke-linejoin="round"/>
<polygon points="216.3,397.8 218.7,395.4 222.6,391.4 228.2,389.1 232.2,389.9 234.6,394.6 241.8,397 248.1,398.6 251.3,401.8 245,405 239.4,406.6 236.2,405 227.4,404.2 221.8,402.6" fill="#002cc0" stroke="#00145c" stroke-width="0.9" stroke-linejoin="round"/>
<polygon points="210.7,414.6 213.9,411.4 217.9,406.6 221.1,401.8 221.8,402.6 227.4,404.2 236.2,405 239.4,406.6 242.6,411.4 246.5,416.1 241.8,419.3 234.6,420.9 232.2,425.7 229,429.7 224.2,426.5 219.5,422.5 214.7,417.7" fill="#009ef0" stroke="#004c78" stroke-width="0.9" stroke-linejoin="round"/>
<polygon points="278.3,352.9 275.2,354.3 271.3,357.2 265.7,361.2 261.7,365.9 256.9,369.1 252.9,373.1 248.1,378.7 245,384.3 241.8,392.2 241.8,397 248.1,398.6 251.3,401.8 245,405 239.4,406.6 242.6,411.4 246.5,416.1 243.4,420.9 246.5,428.9 248.9,432.9 251.3,428.9 256.1,426.5 260.9,425.7 267.3,428.9 269.7,435.3 270.5,441.6 275.2,444.8 280,449.6 268.8,435.3 272,439.3 277.5,446.4 281.5,452.8 284.7,456.8 287.9,452 288.7,446.4 289.5,438.5 291.9,431.3 295.9,432.1 300.7,429.7 304.6,427.3 307,422.5 313.4,417.7 318.2,413 321.4,406.6 326.2,401.8 330.9,398.6 338.9,397.8 342.1,393 345.3,387.5 343.7,385.1 335.7,381.9 327.7,380.3 321.4,377.9 319.8,381.1 315,382.7 311,381.9 310.2,375.5 306.2,373.1 303.8,373.9 295.9,369.9 289.5,364.4 283.9,358" fill="#002cc0" stroke="#00145c" stroke-width="0.9" stroke-linejoin="round"/>
<polygon points="329.3,355.6 329.3,350.8 330.9,343.6 333.3,339.7 338.9,342 343.7,338.1 350.1,334.1 350.9,338.9 354,342 354,344.4 347.7,346 344.5,349.2 342.9,355.6 335.7,356.4" fill="#009ef0" stroke="#004c78" stroke-width="0.9" stroke-linejoin="round"/>
<polygon points="321.4,377.9 322.2,371.5 325.4,364.4 329.3,356.4 335.7,356.4 342.9,355.6 343.7,358 346.9,354 354.8,350 358,352.4 359.6,355.6 356.4,359.6 355.6,365.2 356.4,369.9 354.8,377.9 352.4,382.7 351.6,386.7 343.7,385.1 335.7,381.9 327.7,380.3" fill="#0060d0" stroke="#00306a" stroke-width="0.9" stroke-linejoin="round"/>
<polygon points="306.2,373.1 306.2,366.7 307.8,357.2 309.4,350.8 315.8,348.4 316.6,345.7 319,350.8 322.2,357.2 325.4,364.4 322.2,371.5 321.4,377.9 319.8,381.1 315,382.7 311,381.9 310.2,375.5" fill="#002cc0" stroke="#00145c" stroke-width="0.9" stroke-linejoin="round"/>
<polygon points="339.7,456 345.3,452.8 350.9,448 354.8,444 355.6,448.8 354.8,452.8 358,461.6 354.8,464 350.1,464 343.7,460.8" fill="#002cc0" stroke="#00145c" stroke-width="0.9" stroke-linejoin="round"/>
<polygon points="426.5,452.8 432.9,450.4 435.3,452.8 439.3,453.6 438.5,460 439.3,466 440.1,469.5 439.3,474.3 436.9,472.7 432.9,470.3 429.7,466 430.5,460.8 428.1,456.8" fill="#009ef0" stroke="#004c78" stroke-width="0.9" stroke-linejoin="round"/>
<polygon points="158.9,570.7 163.7,568.4 168.5,565.2 172.4,566 174.8,569.9 172.4,573.9 168.5,575.5 166.1,577.9 162.9,574.7" fill="#002cc0" stroke="#00145c" stroke-width="0.9" stroke-linejoin="round"/>
<polygon points="325.5,599.1 329.4,602 331.9,606.4 339.7,609.8 339.2,614.2 341.6,618.1 341.1,621.1 337.2,624.5 332.8,626.9 327,629.4 323.6,633.8 320.1,631.8 316.7,631.3 313.3,629.4 309.4,626.4 310.4,624 315.2,621.1 317.7,617.1 317.7,612.8 316.2,609.3 318.2,606.4 322.1,602.5" fill="#009ef0" stroke="#004c78" stroke-width="0.9" stroke-linejoin="round"/>
<polygon points="270.5,475.1 273.6,471.9 279.2,472.7 280.8,475.9 277.6,479.9 272.8,481.5" fill="#002cc0" stroke="#00145c" stroke-width="0.9" stroke-linejoin="round"/>
<polyline points="130.2,460 135,462.4 141.4,462.4 145.4,463.2" fill="none" stroke="#3a3a3a" stroke-width="0.9" stroke-linejoin="round"/>
<polyline points="126.2,460 131.8,461.6 139.8,462.4 145.4,461.6" fill="none" stroke="#3a3a3a" stroke-width="0.9" stroke-linejoin="round"/>
<polyline points="256.9,372.3 262.5,369.9 268.9,367.5 275.2,369.1 278.4,370.7 277.6,374.7 272,380.3 267.3,385.9 262.5,390.6 256.9,395.4 252.1,398.6 250.5,401.8" fill="none" stroke="#00145c" stroke-width="0.9" stroke-linejoin="round"/>
<polyline points="241.8,397 248.1,398.6 251.3,401.8 245,405" fill="none" stroke="#00145c" stroke-width="0.9" stroke-linejoin="round"/>
<polyline points="313.8,454.1 314.5,451.7 318.4,450.9" fill="none" stroke="#3a3a3a" stroke-width="0.9" stroke-linejoin="round"/>
<polyline points="219.5,488.7 227.4,494.2 234.6,499.8 241.8,495.8 248.1,494.2 256.1,487.1 260.9,485.5 264.9,481.5 270.5,478.3" fill="none" stroke="#3a3a3a" stroke-width="0.9" stroke-linejoin="round"/>
<polyline points="258.5,456 258.5,464.8 259.3,471.1 265.7,475.9 270.5,478.3" fill="none" stroke="#3a3a3a" stroke-width="0.9" stroke-linejoin="round"/>
<polyline points="234.6,499.8 239.4,505.4 247.3,504.6 252.9,509.4 258.5,515.8 264.1,518.9 272.8,517.4" fill="none" stroke="#3a3a3a" stroke-width="0.9" stroke-linejoin="round"/>
<polyline points="210.7,503 216.3,503 221.1,507 225,511.8 228.2,517.4 229,513.4 237.8,511 240.2,507 239.4,505.4" fill="none" stroke="#3a3a3a" stroke-width="0.9" stroke-linejoin="round"/>
<polyline points="258.5,515.8 251.3,522.9 255.3,530.9 260.1,534.1 266.5,534.1" fill="none" stroke="#3a3a3a" stroke-width="0.9" stroke-linejoin="round"/>
<polyline points="264.1,518.9 275.2,518.9 278.4,526.1 272.8,530.9 268.9,527.7 266.5,534.1" fill="none" stroke="#3a3a3a" stroke-width="0.9" stroke-linejoin="round"/>
<polyline points="264,476.7 270.4,478.3 275.2,481.5 279.9,476.7 287.9,474.3 295.9,473.5 301.5,468 303.8,462.4 307.8,456" fill="none" stroke="#3a3a3a" stroke-width="0.9" stroke-linejoin="round"/>
<polyline points="285.5,456 289.5,462.4 287.9,471.9 287.9,474.3" fill="none" stroke="#3a3a3a" stroke-width="0.9" stroke-linejoin="round"/>
<polyline points="275.2,518.9 277.5,526.1 274.4,530.9 270.4,528.5 266.4,534.1" fill="none" stroke="#3a3a3a" stroke-width="0.9" stroke-linejoin="round"/>
<polyline points="290.3,453.3 289.5,458 290.7,460.3 288.8,465 287.2,470" fill="none" stroke="#3a3a3a" stroke-width="0.9" stroke-linejoin="round"/>
<polyline points="304.4,447.4 306.7,452.5 307.5,455.6 305.9,459.5 302.8,464.2 299.7,468.9" fill="none" stroke="#3a3a3a" stroke-width="0.9" stroke-linejoin="round"/>
<polyline points="297.3,451.7 301.2,452.5 304.4,454.1 306.7,455.6" fill="none" stroke="#3a3a3a" stroke-width="0.9" stroke-linejoin="round"/>
<polygon points="474,955 477,951 484,949 490,945 493,940 499,938 502,934 505,934 508,939 515,940 519,945 526,946 532,950 533,955 529,961 525,966 519,963 511,960 506,962 498,969 492,975 488,977 483,975 480,968 481,961 476,958" fill="#a8a8a8" stroke="#444" stroke-width="0.9" stroke-linejoin="round"/>
</g>
<polygon points="230.5,339.1 234.6,351.8 248,351.8 237.2,359.7 241.3,372.4 230.5,364.5 219.7,372.4 223.8,359.7 213,351.8 226.4,351.8" fill="#fff" stroke="#000" stroke-width="4.3" stroke-linejoin="miter"/>
<g transform="translate(132,78)"><g clip-path="url(#globeclip)">
<circle cx="0" cy="0" r="30" fill="url(#gl)"/>
<polygon points="4,-17.9 9.8,-30 17,-26 19.3,-21.7 12.9,-20.3 6,-17.9" fill="#2f9e3a"/>
<polygon points="5,-16.5 12.9,-20.3 19.3,-21.7 19.3,-17.2 19,-12.8 14.2,-14.8 8.7,-16.2" fill="#e2132a"/>
<polygon points="19.3,-21.7 22,-25 31,-12 31,-6 26.9,-4.2 19.7,-11.4 19.3,-17.2" fill="#cfc0da"/>
<polygon points="5.3,-15.5 14.2,-14.8 19,-12.8 19.7,-11.4 14.2,-6.6 11.5,-10.4 8.7,-13.8" fill="#2f9e3a"/>
<polygon points="3.3,-15.2 6,-14.5 11.5,-10.4 14.2,-6.6 12.2,-4.6 7.4,-3.4 3.1,-3.6" fill="#f4e21c"/>
<polygon points="14.2,-6.6 19.7,-11.4 26.9,-4.2 25.8,-0.8 19.3,6 17,0.5" fill="#f2e200"/>
<polygon points="28.2,-6.3 31,-5 31,-1.5 27.9,-2.9" fill="#2f9e3a"/>
<polygon points="2.9,-3.4 7.4,-3.4 12.2,-4.6 14.2,-6.6 17,0.5 19.3,6 12.9,9.6 2.3,11" fill="#e2132a"/>
<polygon points="19.3,6 25.8,-0.8 27.9,-2.9 31,-1.5 31,8 27.9,12 25.2,14.9 22.1,17.6 20.4,11.5" fill="#d2c4dc"/>
<polygon points="1.9,12 12.9,10 19.3,6.6 20.4,11.5 22.1,18.3 21,24 12.9,29 6,31 0.5,31" fill="#1f9638"/>
<polygon points="22.1,17.6 25.2,14.9 27.9,12 26,18 22.6,20.5" fill="#e2132a"/>
<path d="M3.3,-16.9 Q-1,-23 -4.2,-29.6" fill="none" stroke="#fff" stroke-width="0.75" stroke-opacity="0.92"/>
<path d="M3.3,-16.9 Q-9,-19.5 -24,-17.2" fill="none" stroke="#fff" stroke-width="0.75" stroke-opacity="0.92"/>
<path d="M3.3,-16.9 Q-14,-11 -30,-0.6" fill="none" stroke="#fff" stroke-width="0.75" stroke-opacity="0.92"/>
<path d="M3.3,-16.9 Q-8,-2 -20.5,22" fill="none" stroke="#fff" stroke-width="0.75" stroke-opacity="0.92"/>
<path d="M3.3,-16.9 Q1.2,6 0.2,30.2" fill="none" stroke="#fff" stroke-width="0.75" stroke-opacity="0.92"/>
<path d="M3.3,-16.9 Q6,-23 9.8,-28.4" fill="none" stroke="#fff" stroke-width="0.75" stroke-opacity="0.92"/>
<path d="M3.3,-16.9 Q11,-20 19.3,-21.9" fill="none" stroke="#fff" stroke-width="0.75" stroke-opacity="0.92"/>
<path d="M3.3,-16.9 Q16,-13.5 28.4,-6.3" fill="none" stroke="#fff" stroke-width="0.75" stroke-opacity="0.92"/>
<path d="M3.3,-16.9 Q17,-8 29.8,3.4" fill="none" stroke="#fff" stroke-width="0.75" stroke-opacity="0.92"/>
<path d="M3.3,-16.9 Q13,-1 22.3,18.5" fill="none" stroke="#fff" stroke-width="0.75" stroke-opacity="0.92"/>
<path d="M-11.8,-22 Q-14,-10 -5,-5.5 Q0,-3.4 3.3,-3.5 Q10,-3.8 14.2,-6.6 Q18,-9 19.7,-11.4" fill="none" stroke="#fff" stroke-width="0.75" stroke-opacity="0.92"/>
<path d="M-24,-17 Q-24,-2 -14.5,6 Q-6,12 2,12 Q12,11 19.3,6.3 Q25,2 28.2,-6" fill="none" stroke="#fff" stroke-width="0.75" stroke-opacity="0.92"/>
<path d="M-28.8,7.4 Q-22,20 -7.6,25.2 Q0,26.8 8,24.5 Q16,22 22.1,18" fill="none" stroke="#fff" stroke-width="0.75" stroke-opacity="0.92"/>
</g></g>
<text x="169.2" y="74.8" font-size="14.2" font-weight="bold" fill="#404040" textLength="89.6" lengthAdjust="spacingAndGlyphs">ISTITUTO NAZIONALE</text>
<text x="169.2" y="89.2" font-size="14.2" font-weight="bold" fill="#404040" textLength="136.2" lengthAdjust="spacingAndGlyphs">DI GEOFISICA E VULCANOLOGIA</text>
<g transform="translate(1096.2,916.6)">
<circle r="33" fill="#1d1d1b"/>
<circle r="19.1" fill="none" stroke="#e30613" stroke-width="6.6"/>
<circle r="8.2" fill="#e30613"/>
<path d="M4,-3.5 L32.5,-16 Q35,-16.6 35,-14 L35,14.5 Q35,17.6 32.5,16.8 L4,5.5 Q0,1 4,-3.5 Z" fill="url(#cone)"/>
<path d="M4,5.5 L32.5,16.8 Q35,17.6 35,14.5 L35,10.5 L7,3.5 Z" fill="#1560b0" fill-opacity="0.75"/>
<circle cx="48.5" cy="0" r="10.2" fill="#e30613"/>
<text x="0" y="0" transform="translate(48.5,0) rotate(90)" text-anchor="middle" font-size="15" font-weight="bold" fill="#fff" dy="5.2">?</text>
<text font-size="20.5" letter-spacing="0" textLength="216" lengthAdjust="spacingAndGlyphs"><textPath href="#ring" textLength="216" lengthAdjust="spacingAndGlyphs"><tspan fill="#e30613" font-weight="bold">www.</tspan><tspan fill="#333">hai</tspan><tspan fill="#111" font-weight="bold">sentito</tspan><tspan fill="#444">il</tspan><tspan fill="#111" stroke="#111" stroke-width="0.35">terremoto</tspan><tspan fill="#e30613" font-weight="bold">.it</tspan></textPath></text>
</g>
<line x1="303.4" y1="36.5" x2="303.4" y2="987.4" stroke="#111" stroke-width="1"/>
<line x1="707.4" y1="36.5" x2="707.4" y2="987.4" stroke="#111" stroke-width="1"/>
<line x1="1111.4" y1="36.5" x2="1111.4" y2="987.4" stroke="#111" stroke-width="1"/>
<line x1="83.5" y1="545.4" x2="1172.5" y2="545.4" stroke="#111" stroke-width="1"/>
<path d="M73.5,26.3 H1182.4 V996.9 H73.5 Z M83.5,36.5 V987.4 H1172.5 V36.5 Z" fill="#fff" fill-rule="evenodd" stroke="none"/>
<rect x="83.5" y="26.3" width="219.9" height="10.2" fill="#000"/>
<rect x="707.4" y="26.3" width="404" height="10.2" fill="#000"/>
<rect x="83.5" y="987.4" width="219.9" height="9.5" fill="#000"/>
<rect x="707.4" y="987.4" width="404" height="9.5" fill="#000"/>
<rect x="73.5" y="36.5" width="10" height="508.9" fill="#000"/>
<rect x="1172.5" y="36.5" width="9.9" height="508.9" fill="#000"/>
<rect x="73.5" y="26.3" width="1108.9" height="970.6" fill="none" stroke="#222" stroke-width="1"/>
<rect x="83.5" y="36.5" width="1089" height="950.9" fill="none" stroke="#222" stroke-width="1"/>
<line x1="303.4" y1="26.3" x2="303.4" y2="36.5" stroke="#222" stroke-width="1"/>
<line x1="303.4" y1="987.4" x2="303.4" y2="996.9" stroke="#222" stroke-width="1"/>
<line x1="707.4" y1="26.3" x2="707.4" y2="36.5" stroke="#222" stroke-width="1"/>
<line x1="707.4" y1="987.4" x2="707.4" y2="996.9" stroke="#222" stroke-width="1"/>
<line x1="1111.4" y1="26.3" x2="1111.4" y2="36.5" stroke="#222" stroke-width="1"/>
<line x1="1111.4" y1="987.4" x2="1111.4" y2="996.9" stroke="#222" stroke-width="1"/>
<line x1="83.5" y1="26.3" x2="83.5" y2="36.5" stroke="#222" stroke-width="1"/>
<line x1="83.5" y1="987.4" x2="83.5" y2="996.9" stroke="#222" stroke-width="1"/>
<line x1="1172.5" y1="26.3" x2="1172.5" y2="36.5" stroke="#222" stroke-width="1"/>
<line x1="1172.5" y1="987.4" x2="1172.5" y2="996.9" stroke="#222" stroke-width="1"/>
<line x1="73.5" y1="545.4" x2="83.5" y2="545.4" stroke="#222" stroke-width="1"/>
<line x1="1172.5" y1="545.4" x2="1182.4" y2="545.4" stroke="#222" stroke-width="1"/>
<line x1="73.5" y1="36.5" x2="83.5" y2="36.5" stroke="#222" stroke-width="1"/>
<line x1="1172.5" y1="36.5" x2="1182.4" y2="36.5" stroke="#222" stroke-width="1"/>
<line x1="73.5" y1="987.4" x2="83.5" y2="987.4" stroke="#222" stroke-width="1"/>
<line x1="1172.5" y1="987.4" x2="1182.4" y2="987.4" stroke="#222" stroke-width="1"/>
<text x="303.4" y="17.2" font-size="24" text-anchor="middle" fill="#000">13°30'</text>
<text x="303.4" y="1023.8" font-size="24" text-anchor="middle" fill="#000">13°30'</text>
<text x="707.4" y="17.2" font-size="24" text-anchor="middle" fill="#000">15°00'</text>
<text x="707.4" y="1023.8" font-size="24" text-anchor="middle" fill="#000">15°00'</text>
<text x="1111.4" y="17.2" font-size="24" text-anchor="middle" fill="#000">16°30'</text>
<text x="1111.4" y="1023.8" font-size="24" text-anchor="middle" fill="#000">16°30'</text>
<text x="64.2" y="554" font-size="24" text-anchor="end" fill="#000">42°00'</text>
<text x="1191.2" y="554" font-size="24" text-anchor="start" fill="#000">42°00'</text>
<rect x="164.3" y="931.5" width="164.2" height="5" fill="#fff" stroke="#111" stroke-width="1"/>
<rect x="164.3" y="931" width="32.8" height="6" fill="#000"/>
<rect x="230" y="931" width="32.8" height="6" fill="#000"/>
<rect x="295.7" y="931" width="32.8" height="6" fill="#000"/>
<line x1="164.3" y1="931" x2="164.3" y2="940.8" stroke="#111" stroke-width="1"/>
<line x1="197.1" y1="931" x2="197.1" y2="938.8" stroke="#111" stroke-width="1"/>
<line x1="230" y1="931" x2="230" y2="938.8" stroke="#111" stroke-width="1"/>
<line x1="262.8" y1="931" x2="262.8" y2="938.8" stroke="#111" stroke-width="1"/>
<line x1="295.7" y1="931" x2="295.7" y2="938.8" stroke="#111" stroke-width="1"/>
<line x1="328.5" y1="931" x2="328.5" y2="940.8" stroke="#111" stroke-width="1"/>
<text x="164.5" y="965.3" font-size="24" text-anchor="middle" fill="#000">0</text>
<text x="328.3" y="965.3" font-size="24" text-anchor="middle" fill="#000">50</text>
<text x="246.2" y="916.2" font-size="28" text-anchor="middle" fill="#000" textLength="41.4" lengthAdjust="spacingAndGlyphs">km</text>
<rect x="772.5" y="46.5" width="382" height="61.8" fill="#fff" stroke="#000" stroke-width="1"/>
<text x="777.2" y="59.7" font-size="12.7" fill="#000" textLength="366" lengthAdjust="spacingAndGlyphs">Terremoto del 03-09-2010 04:24:25 (ora locale) ML=3.3 Prof=10 km</text>
<text x="777.2" y="74.7" font-size="12.7" fill="#000" textLength="371" lengthAdjust="spacingAndGlyphs">Mappa preliminare delle intensità macrosismiche stimate nei comuni</text>
<text x="777.2" y="89.7" font-size="12.7" fill="#000" textLength="376" lengthAdjust="spacingAndGlyphs">Dati non verificati estratti da 211 questionari compilati tramite Internet.</text>
<text x="777.2" y="104.7" font-size="12.7" fill="#000" textLength="289" lengthAdjust="spacingAndGlyphs">Ultimo aggiornamento: 10-01-2026 05:24 (ora locale)</text>
<rect x="1053.4" y="171.7" width="99.4" height="472.7" fill="#fff" stroke="#000" stroke-width="1"/>
<text x="1103.0" y="187.7" font-size="12.6" font-weight="bold" fill="#000" text-anchor="middle" textLength="37.5" lengthAdjust="spacingAndGlyphs">Scala</text>
<text x="1103.0" y="203.8" font-size="12.6" font-weight="bold" fill="#000" text-anchor="middle" textLength="58" lengthAdjust="spacingAndGlyphs">Europea</text>
<text x="1103.0" y="219.4" font-size="12.6" font-weight="bold" fill="#000" text-anchor="middle" textLength="39.5" lengthAdjust="spacingAndGlyphs">(EMS)</text>
<rect x="1074.3" y="229.4" width="57.4" height="19" fill="#aaaaaa" stroke="#111" stroke-width="1"/>
<text x="1103.0" y="242.4" font-size="12.6" font-weight="bold" fill="#fff" text-anchor="middle" textLength="33" lengthAdjust="spacingAndGlyphs">n.a.*</text>
<rect x="1074.3" y="253.5" width="57.4" height="19" fill="#5068b0" stroke="#111" stroke-width="1"/>
<text x="1103.0" y="266.5" font-size="12.6" font-weight="bold" fill="#fff" text-anchor="middle" textLength="8.6" lengthAdjust="spacingAndGlyphs">II</text>
<rect x="1074.3" y="277.6" width="57.4" height="19" fill="#002cc0" stroke="#111" stroke-width="1"/>
<text x="1103.0" y="290.6" font-size="12.6" font-weight="bold" fill="#fff" text-anchor="middle" textLength="13.2" lengthAdjust="spacingAndGlyphs">III</text>
<rect x="1074.3" y="301.7" width="57.4" height="19" fill="#0060d0" stroke="#111" stroke-width="1"/>
<text x="1103.0" y="314.7" font-size="12.6" font-weight="bold" fill="#fff" text-anchor="middle" textLength="32" lengthAdjust="spacingAndGlyphs">III-IV</text>
<rect x="1074.3" y="325.8" width="57.4" height="19" fill="#009ef0" stroke="#111" stroke-width="1"/>
<text x="1103.0" y="338.8" font-size="12.6" font-weight="bold" fill="#fff" text-anchor="middle" textLength="13.8" lengthAdjust="spacingAndGlyphs">IV</text>
<rect x="1074.3" y="349.9" width="57.4" height="19" fill="#00c878" stroke="#111" stroke-width="1"/>
<text x="1103.0" y="362.9" font-size="12.6" font-weight="bold" fill="#000" text-anchor="middle" textLength="28" lengthAdjust="spacingAndGlyphs">IV-V</text>
<rect x="1074.3" y="373.9" width="57.4" height="19" fill="#00ff00" stroke="#111" stroke-width="1"/>
<text x="1103.0" y="386.9" font-size="12.6" font-weight="bold" fill="#000" text-anchor="middle" textLength="9.3" lengthAdjust="spacingAndGlyphs">V</text>
<rect x="1074.3" y="398" width="57.4" height="19" fill="#b8ff00" stroke="#111" stroke-width="1"/>
<text x="1103.0" y="411" font-size="12.6" font-weight="bold" fill="#000" text-anchor="middle" textLength="28" lengthAdjust="spacingAndGlyphs">V-VI</text>
<rect x="1074.3" y="422.1" width="57.4" height="19" fill="#fff000" stroke="#111" stroke-width="1"/>
<text x="1103.0" y="435.1" font-size="12.6" font-weight="bold" fill="#000" text-anchor="middle" textLength="13.8" lengthAdjust="spacingAndGlyphs">VI</text>
<rect x="1074.3" y="446.2" width="57.4" height="19" fill="#ffc800" stroke="#111" stroke-width="1"/>
<text x="1103.0" y="459.2" font-size="12.6" font-weight="bold" fill="#000" text-anchor="middle" textLength="37" lengthAdjust="spacingAndGlyphs">VI-VII</text>
<rect x="1074.3" y="470.3" width="57.4" height="19" fill="#ffa000" stroke="#111" stroke-width="1"/>
<text x="1103.0" y="483.3" font-size="12.6" font-weight="bold" fill="#000" text-anchor="middle" textLength="18.2" lengthAdjust="spacingAndGlyphs">VII</text>
<rect x="1074.3" y="494.4" width="57.4" height="19" fill="#ff6800" stroke="#111" stroke-width="1"/>
<text x="1103.0" y="507.4" font-size="12.6" font-weight="bold" fill="#000" text-anchor="middle" textLength="46.5" lengthAdjust="spacingAndGlyphs">VII-VIII</text>
<rect x="1074.3" y="518.5" width="57.4" height="19" fill="#ff0000" stroke="#111" stroke-width="1"/>
<text x="1103.0" y="531.5" font-size="12.6" font-weight="bold" fill="#000" text-anchor="middle" textLength="22.5" lengthAdjust="spacingAndGlyphs">VIII</text>
<text x="1058.2" y="557.7" font-size="13.4" fill="#222" textLength="91.5" lengthAdjust="spacingAndGlyphs">*non avvertito</text>
<line x1="1052.8" y1="568.3" x2="1150.6" y2="568.3" stroke="#111" stroke-width="1" stroke-dasharray="2,2"/>
<text x="1103.0" y="583.8" font-size="12.6" font-weight="bold" fill="#000" text-anchor="middle" textLength="67.7" lengthAdjust="spacingAndGlyphs">Epicentro</text>
<text x="1103.0" y="599.5" font-size="12.6" font-weight="bold" fill="#000" text-anchor="middle" textLength="88" lengthAdjust="spacingAndGlyphs">strumentale</text>
<polygon points="1100.6,614 1102.5,619.9 1108.8,619.9 1103.7,623.6 1105.7,629.6 1100.6,625.9 1095.5,629.6 1097.5,623.6 1092.4,619.9 1098.7,619.9" fill="#fff" stroke="#000" stroke-width="0.9" stroke-linejoin="miter"/>
</svg>
</body></html>
